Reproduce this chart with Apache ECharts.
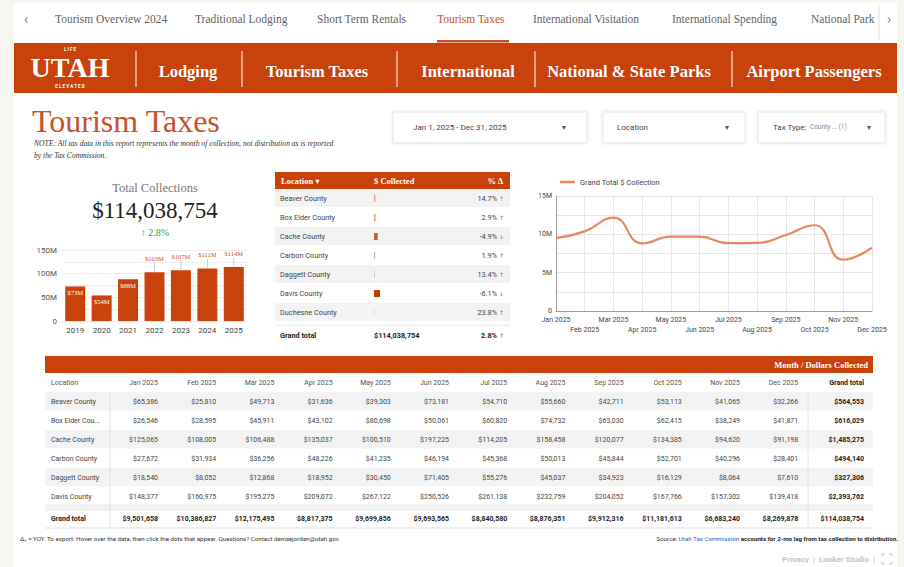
<!DOCTYPE html>
<html>
<head>
<meta charset="utf-8">
<title>Tourism Taxes</title>
<script src="https://cdn.jsdelivr.net/npm/echarts@6/dist/echarts.min.js"></script>
<style>
  html, body { margin: 0; padding: 0; background: #f6f6ee; }
  #main { width: 904px; height: 567px; }
</style>
</head>
<body>
<div id="main"></div>
<script>
  // ---- data ----
  var navTabs = ['Tourism Overview 2024', 'Traditional Lodging', 'Short Term Rentals', 'Tourism Taxes',
    'International Visitation', 'International Spending', 'National Park'];
  var menuItems = ['Lodging', 'Tourism Taxes', 'International', 'National & State Parks', 'Airport Passengers'];

  var years = ['2019', '2020', '2021', '2022', '2023', '2024', '2025'];
  var yearTotals = [73, 54, 88, 103, 107, 111, 114]; // $M

  var counties = ['Beaver County', 'Box Elder County', 'Cache County', 'Carbon County',
    'Daggett County', 'Davis County', 'Duchesne County'];
  var countyTotals = [564553, 616029, 1485275, 494140, 327306, 2393762, 210000];
  var countyChange = [14.7, 2.9, -4.9, 1.9, 13.4, -6.1, 23.8];
  var grandTotal = 114038754;
  var grandChange = 2.8;

  var months = ['Jan 2025', 'Feb 2025', 'Mar 2025', 'Apr 2025', 'May 2025', 'Jun 2025',
    'Jul 2025', 'Aug 2025', 'Sep 2025', 'Oct 2025', 'Nov 2025', 'Dec 2025'];
  var monthTotals = [9501658, 10386827, 12175495, 8817375, 9699856, 9693565,
    8840580, 8876351, 9912316, 11181613, 6683240, 8269878];

  var tableNames = ['Beaver County', 'Box Elder Cou...', 'Cache County', 'Carbon County', 'Daggett County', 'Davis County'];
  var beaverMonths = [65386, 25810, 49713, 31636, 39303, 73181, 54710, 55660, 42711, 53113, 41065, 32266];
  var boxElderMonths = [26546, 28595, 45911, 43102, 80698, 50061, 60820, 74732, 63030, 62415, 38249, 41871];
  var cacheMonths = [125065, 108005, 106488, 135037, 100510, 197225, 114205, 158458, 120077, 134385, 94620, 91198];
  var carbonMonths = [27672, 31934, 36256, 48226, 41235, 46194, 45368, 50013, 45844, 52701, 40296, 28401];
  var daggettMonths = [18540, 8052, 12868, 18952, 30450, 71405, 55276, 45037, 34923, 16129, 8064, 7610];
  var davisMonths = [148377, 160975, 195275, 209072, 267122, 250526, 261138, 232759, 204052, 167766, 157302, 139418];

  // ---- helpers ----
  var ORANGE = '#c9410b';
  var SERIF = '"Liberation Serif", "DejaVu Serif", serif';
  var SANS = 'Roboto, "Noto Sans", sans-serif';
  function money(n) { return '$' + n.toLocaleString('en-US'); }
  function T(x, y, text, font, fill, align, va) {
    return { type: 'text', x: x, y: y, silent: true, z: 10,
      style: { text: text, font: font, fill: fill || '#333', align: align || 'left', verticalAlign: va || 'middle' } };
  }
  function R(x, y, w, h, fill, stroke, extra) {
    var st = { fill: fill, stroke: stroke || null, lineWidth: 1 };
    if (extra) for (var k in extra) st[k] = extra[k];
    return { type: 'rect', silent: true, z: 0, shape: { x: x, y: y, width: w, height: h }, style: st };
  }
  function L(x1, y1, x2, y2, stroke, w) {
    return { type: 'line', silent: true, z: 1, shape: { x1: x1, y1: y1, x2: x2, y2: y2 }, style: { stroke: stroke, lineWidth: w || 1 } };
  }

  var g = [];
  // page panel
  g.push(R(14, 3, 883, 564, '#ffffff'));

  // top nav tabs
  var tabX = [55, 195, 317, 437, 533, 672, 811];
  g.push(T(26, 19, '‹', '14px ' + SANS, '#888', 'center'));
  navTabs.forEach(function (t, i) {
    g.push(T(tabX[i], 19, t, '11.5px ' + SERIF, t === 'Tourism Taxes' ? '#c8502a' : '#5f6368'));
  });
  g.push(R(437, 40, 72, 2.5, '#c8502a'));
  g.push(L(879, 4, 879, 40, '#e2e2e2', 1));
  g.push(T(889, 19, '›', '14px ' + SANS, '#888', 'center'));

  // banner
  g.push(R(14, 43, 883, 50, ORANGE));
  g.push(T(70, 49.5, 'L I F E', 'bold 4.5px ' + SANS, '#fff', 'center'));
  g.push(T(70, 67, 'UTAH', 'bold 28px ' + SERIF, '#fff', 'center'));
  g.push(T(70, 86.5, 'E L E V A T E D', 'bold 4.5px ' + SANS, '#fff', 'center'));
  [136, 242, 397, 535, 732].forEach(function (x) { g.push(L(x, 51, x, 87, 'rgba(255,255,255,0.85)', 1.2)); });
  var menuX = [188, 317, 468, 629, 814];
  menuItems.forEach(function (t, i) { g.push(T(menuX[i], 71, t, 'bold 16.5px ' + SERIF, '#fff', 'center')); });

  // title + note
  g.push(T(32, 121, 'Tourism Taxes', '32px ' + SERIF, '#c8502a'));
  g.push(T(34, 143, 'NOTE: All tax data in this report represents the month of collection, not distribution as is reported', 'italic 7.6px ' + SERIF, '#333'));
  g.push(T(34, 155, 'by the Tax Commission.', 'italic 7.6px ' + SERIF, '#333'));

  // filter boxes
  var boxShadow = { shadowBlur: 3, shadowColor: 'rgba(0,0,0,0.12)' };
  g.push(R(393, 112, 194, 31, '#fff', '#e6e6e6', boxShadow));
  g.push(T(413, 127, 'Jan 1, 2025 - Dec 31, 2025', '8px ' + SANS, '#444'));
  g.push(T(564, 127, '▾', '8px "DejaVu Sans"', '#555', 'center'));
  g.push(R(603, 112, 142, 31, '#fff', '#e6e6e6', boxShadow));
  g.push(T(617, 127, 'Location', '8px ' + SANS, '#444'));
  g.push(T(727, 127, '▾', '8px "DejaVu Sans"', '#555', 'center'));
  g.push(R(758, 112, 127, 31, '#fff', '#e6e6e6', boxShadow));
  g.push({ type: 'text', x: 773, y: 127, silent: true, z: 10, style: {
    text: '{a|Tax Type:} {b|County ... (1)}', verticalAlign: 'middle',
    rich: { a: { font: '8px ' + SANS, fill: '#444' }, b: { font: '6.5px ' + SANS, fill: '#888' } } } });
  g.push(T(869, 127, '▾', '8px "DejaVu Sans"', '#555', 'center'));

  // scorecard
  g.push(T(155, 188, 'Total Collections', '12.5px ' + SERIF, '#777', 'center'));
  g.push(T(155, 210, money(grandTotal), '23px ' + SERIF, '#222', 'center'));
  g.push(T(155, 232, '↑ ' + grandChange.toFixed(1) + '%', '10px ' + SERIF, '#2e9e50', 'center'));

  // location table
  g.push(R(275, 172, 235, 17, ORANGE));
  g.push(T(281, 180.5, 'Location ▾', 'bold 8.5px ' + SERIF, '#fff'));
  g.push(T(374, 180.5, '$ Collected', 'bold 8.5px ' + SERIF, '#fff'));
  g.push(T(503, 180.5, '% Δ', 'bold 8.5px ' + SERIF, '#fff', 'right'));
  counties.forEach(function (c, i) {
    var y = 189 + i * 19;
    if (i % 2 === 0) g.push(R(275, y, 235, 18, '#f3f3f3'));
    g.push(T(280, y + 9.5, c, '7.3px ' + SANS, '#444'));
    var v = countyChange[i];
    g.push(T(497, y + 9.5, v.toFixed(1) + '%', '7.3px ' + SANS, '#444', 'right'));
    g.push(T(499, y + 9.5, v >= 0 ? '↑' : '↓', '6px "DejaVu Sans"', v >= 0 ? '#2e9e50' : '#e0503a'));
  });
  g.push(L(275, 325, 510, 325, '#e4e4e4', 1));
  g.push(T(280, 335, 'Grand total', 'bold 7.3px ' + SANS, '#222'));
  g.push(T(374, 335, money(grandTotal), 'bold 7.3px ' + SANS, '#222'));
  g.push(T(497, 335, grandChange.toFixed(1) + '%', 'bold 7.3px ' + SANS, '#222', 'right'));
  g.push(T(499, 335, '↑', '6px "DejaVu Sans"', '#2e9e50'));

  // bottom table
  g.push(R(45, 356, 828, 17, ORANGE));
  g.push(T(868, 364.5, 'Month / Dollars Collected', 'bold 8.5px ' + SERIF, '#fff', 'right'));
  var colX = months.map(function (m, i) { return 158 + i * 58.2; });
  g.push(T(51, 383, 'Location', '7px ' + SANS, '#555'));
  months.forEach(function (m, i) { g.push(T(colX[i], 383, m, '7px ' + SANS, '#555', 'right')); });
  g.push(T(864, 383, 'Grand total', 'bold 7px ' + SANS, '#222', 'right'));
  var tableRows = [beaverMonths, boxElderMonths, cacheMonths, carbonMonths, daggettMonths, davisMonths];
  tableRows.forEach(function (row, r) {
    var y = 392 + r * 19;
    if (r % 2 === 0) g.push(R(45, y, 828, 18.5, '#f3f3f3'));
    g.push(T(51, y + 9.5, tableNames[r], '7px ' + SANS, '#444'));
    row.forEach(function (v, i) { g.push(T(colX[i], y + 9.5, money(v), '7px ' + SANS, '#444', 'right')); });
    g.push(T(864, y + 9.5, money(countyTotals[r]), 'bold 7px ' + SANS, '#222', 'right'));
  });
  g.push(R(45, 504, 828, 5, '#f3f3f3'));
  g.push(L(45, 510, 873, 510, '#e0e0e0', 1));
  g.push(T(51, 519, 'Grand total', 'bold 7px ' + SANS, '#222'));
  monthTotals.forEach(function (v, i) { g.push(T(colX[i], 519, money(v), 'bold 7px ' + SANS, '#222', 'right')); });
  g.push(T(864, 519, money(grandTotal), 'bold 7px ' + SANS, '#222', 'right'));
  g.push(L(45, 528, 873, 528, '#e0e0e0', 1));
  g.push(L(110, 392, 110, 528, '#e2e2e2', 1));
  g.push(L(808, 392, 808, 528, '#e2e2e2', 1));

  // footer
  g.push(T(20, 539, 'Δ\u2081 = YOY. To export: Hover over the data, then click the dots that appear. Questions? Contact denisejordan@utah.gov.', '6.2px ' + SANS, '#333'));
  g.push({ type: 'text', x: 898, y: 539, silent: true, z: 10, style: {
    text: '{a|Source: }{b|Utah Tax Commission}{c| accounts for 2-mo lag from tax collection to distribution.}',
    align: 'right', verticalAlign: 'middle',
    rich: { a: { font: '6.2px ' + SANS, fill: '#333' },
      b: { font: '6.2px ' + SANS, fill: '#1a5fd0', textDecoration: 'underline' },
      c: { font: 'bold 6.2px ' + SANS, fill: '#222' } } } });
  g.push(T(875, 559, 'Privacy  |  Looker Studio  |', 'bold 8px ' + SANS, '#c4c4c4', 'right'));
  [[882, 554, 1, 1], [892, 554, -1, 1], [882, 564, 1, -1], [892, 564, -1, -1]].forEach(function (c) {
    g.push(L(c[0], c[1], c[0] + 3 * c[2], c[1], '#c4c4c4', 1));
    g.push(L(c[0], c[1], c[0], c[1] + 3 * c[3], '#c4c4c4', 1));
  });

  function heat(v) {
    var t = Math.min(1, v / 2000000);
    var a = [248, 205, 184], b = [197, 58, 0];
    return 'rgb(' + a.map(function (x, k) { return Math.round(x + (b[k] - x) * t); }).join(',') + ')';
  }

  var chart = echarts.init(document.getElementById('main'), null, { renderer: 'svg' });
  var option = {
    backgroundColor: '#f6f6ee',
    animation: false,
    textStyle: { fontFamily: 'Roboto' },
    graphic: g,
    legend: {
      data: ['Grand Total $ Collection'],
      left: 555, top: 173,
      icon: 'rect', itemWidth: 15, itemHeight: 2.5, itemGap: 4,
      textStyle: { fontSize: 7.5, color: '#444', fontFamily: 'Roboto' }
    },
    grid: [
      { left: 62, top: 250, width: 185, height: 71 },
      { left: 556, top: 196, width: 316, height: 115 },
      { left: 374, top: 189, width: 85, height: 133 }
    ],
    xAxis: [
      { type: 'category', gridIndex: 0, data: years,
        axisLine: { show: false }, axisTick: { show: false },
        axisLabel: { fontSize: 8, color: '#444', margin: 5 } },
      { type: 'category', gridIndex: 1, data: months, boundaryGap: false,
        axisLine: { lineStyle: { color: '#9a9a9a' } }, axisTick: { show: false },
        splitLine: { show: true, lineStyle: { color: '#e6e6e6' } },
        axisLabel: { interval: 0, fontSize: 7, color: '#444', margin: 4, lineHeight: 10,
          formatter: function (v, i) { return i % 2 ? '\n' + v : v; } } },
      { type: 'value', gridIndex: 2, min: 0, max: 34000000, show: false }
    ],
    yAxis: [
      { type: 'value', gridIndex: 0, min: 0, max: 150, interval: 25,
        axisLabel: { fontSize: 8, color: '#555', margin: 5,
          formatter: function (v) { return v % 50 ? '' : (v === 0 ? '0' : v + 'M'); } },
        splitLine: { lineStyle: { color: '#ececec' } } },
      { type: 'value', gridIndex: 1, min: 0, max: 15000000, interval: 2500000,
        axisLine: { show: true, lineStyle: { color: '#9a9a9a' } },
        axisLabel: { fontSize: 7, color: '#444', margin: 4,
          formatter: function (v) { return v % 5000000 ? '' : (v === 0 ? '0' : v / 1000000 + 'M'); } },
        splitLine: { lineStyle: { color: '#e6e6e6' } } },
      { type: 'category', gridIndex: 2, data: counties, inverse: true, show: false }
    ],
    series: [
      { type: 'bar', xAxisIndex: 0, yAxisIndex: 0, barWidth: 20,
        itemStyle: { color: ORANGE },
        data: yearTotals.map(function (v, i) {
          return i < 3 ? { value: v, label: { position: 'insideTop', color: '#fff', distance: 3 } }
                       : { value: v, label: { position: 'top', color: '#d2502a', distance: 10 } };
        }),
        label: { show: true, fontSize: 6.5, fontFamily: SERIF,
          formatter: function (p) { return '$' + p.value + 'M'; } }
      },
      { name: 'Grand Total $ Collection', type: 'line', xAxisIndex: 1, yAxisIndex: 1,
        data: monthTotals, smooth: true, symbol: 'none',
        lineStyle: { color: '#ea8760', width: 2.2 }, itemStyle: { color: '#ea8760' } },
      { type: 'bar', xAxisIndex: 2, yAxisIndex: 2, barWidth: 7,
        data: countyTotals,
        itemStyle: { color: function (p) { return heat(p.value); } } },
      // leader ticks from the lifted labels down to the bar tops
      { type: 'scatter', xAxisIndex: 0, yAxisIndex: 0, symbol: 'rect', symbolSize: [0.8, 9],
        symbolOffset: [0, -5], itemStyle: { color: '#b5b5b5' }, silent: true,
        data: yearTotals.map(function (v, i) { return i < 3 ? null : [i, v]; }).filter(Boolean) }
    ]
  };
  option && chart.setOption(option);
</script>
</body>
</html>
